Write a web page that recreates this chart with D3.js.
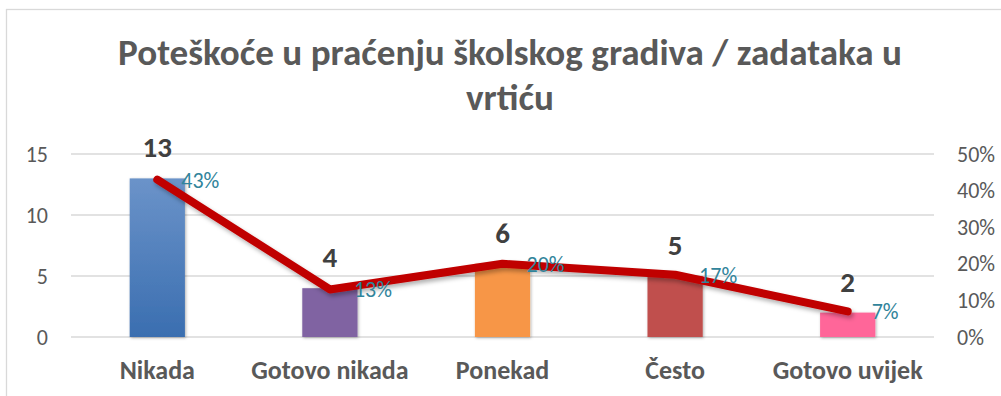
<!DOCTYPE html>
<html>
<head>
<meta charset="utf-8">
<script src="https://cdn.jsdelivr.net/npm/d3@7"></script>
<style>
  html, body { margin: 0; padding: 0; background: #fff; }
  svg { display: block; font-family: Carlito, Lato, "Open Sans", sans-serif; }
</style>
</head>
<body>
<svg id="chart" width="1001" height="396"></svg>
<script>
// Answers per category
const categories = ["Nikada", "Gotovo nikada", "Ponekad", "Često", "Gotovo uvijek"];
const counts = [13, 4, 6, 5, 2];
const shares = [0.43, 0.13, 0.20, 0.17, 0.07];
const barColors = ["#4f81bd", "#8064a2", "#f79646", "#c0504d", "#ff6699"];
const countTicks = [0, 5, 10, 15];
const shareTicks = [0, 0.1, 0.2, 0.3, 0.4, 0.5];
const titleLines = ["Poteškoće u praćenju školskog gradiva / zadataka u", "vrtiću"];

const svg = d3.select("#chart");
const W = 1001, H = 396;
const plot = { left: 71, right: 934, top: 154, bottom: 337 };
const FONT = "Carlito, Lato, sans-serif";

const defs = svg.append("defs");
const grad = defs.append("linearGradient").attr("id", "blueBar")
  .attr("x1", 0).attr("y1", 0).attr("x2", 0).attr("y2", 1);
grad.append("stop").attr("offset", "0%").attr("stop-color", "#6b93c9");
grad.append("stop").attr("offset", "100%").attr("stop-color", "#3a6eb0");

const barShadow = defs.append("filter").attr("id", "barShadow")
  .attr("x", "-20%").attr("y", "-20%").attr("width", "140%").attr("height", "140%");
barShadow.append("feDropShadow").attr("dx", 1).attr("dy", 1).attr("stdDeviation", 1.6)
  .attr("flood-color", "#000").attr("flood-opacity", 0.3);

const lineShadow = defs.append("filter").attr("id", "lineShadow")
  .attr("x", "-10%").attr("y", "-30%").attr("width", "120%").attr("height", "160%");
lineShadow.append("feDropShadow").attr("dx", 2).attr("dy", 3).attr("stdDeviation", 2.2)
  .attr("flood-color", "#000").attr("flood-opacity", 0.3);

// Chart frame
svg.append("rect").attr("x", 6.5).attr("y", 9.5).attr("width", W + 10).attr("height", H + 10)
  .attr("fill", "#fff").attr("stroke", "#d9d9d9").attr("stroke-width", 1.3);

// Scales
const x = d3.scaleBand().domain(categories).range([plot.left, plot.right]).paddingInner(0.68).paddingOuter(0.34);
const yL = d3.scaleLinear().domain([0, 15]).range([plot.bottom, plot.top]);
const yR = d3.scaleLinear().domain([0, 0.5]).range([plot.bottom, plot.top]);
const cx = d => x(d) + x.bandwidth() / 2;

// Gridlines
svg.append("g").selectAll("line").data(countTicks).join("line")
  .attr("x1", plot.left).attr("x2", plot.right)
  .attr("y1", d => yL(d)).attr("y2", d => yL(d))
  .attr("stroke", "#d9d9d9").attr("stroke-width", 1.4);

// Left axis
const leftAxis = svg.append("g").attr("transform", `translate(${plot.left},0)`)
  .call(d3.axisLeft(yL).tickValues(countTicks).tickSize(0).tickPadding(23));
leftAxis.select(".domain").remove();
leftAxis.selectAll("text").attr("font-size", 22).attr("fill", "#595959")
  .attr("font-family", FONT);

// Right axis
const rightAxis = svg.append("g").attr("transform", `translate(${plot.right},0)`)
  .call(d3.axisRight(yR).tickValues(shareTicks).tickSize(0).tickPadding(23).tickFormat(d3.format(".0%")));
rightAxis.select(".domain").remove();
rightAxis.selectAll("text").attr("font-size", 22).attr("fill", "#595959")
  .attr("font-family", FONT);

// Bottom category labels
const bottomAxis = svg.append("g").attr("transform", `translate(0,${plot.bottom})`)
  .call(d3.axisBottom(x).tickSize(0));
bottomAxis.select(".domain").remove();
bottomAxis.selectAll("text").attr("font-size", 26).attr("font-weight", "bold").attr("fill", "#595959")
  .attr("font-family", FONT).attr("y", 379 - plot.bottom).attr("dy", 0);

// Bars
svg.append("g").selectAll("rect").data(categories).join("rect")
  .attr("x", d => x(d)).attr("width", x.bandwidth())
  .attr("y", (d, i) => yL(counts[i]))
  .attr("height", (d, i) => yL(0) - yL(counts[i]))
  .attr("fill", (d, i) => i === 0 ? "url(#blueBar)" : barColors[i])
  .attr("filter", "url(#barShadow)");

// Count labels above bars
svg.append("g").selectAll("text").data(categories).join("text")
  .attr("x", d => cx(d)).attr("y", (d, i) => yL(counts[i]) - 21)
  .attr("text-anchor", "middle").attr("font-size", 29).attr("font-weight", "bold")
  .attr("fill", "#404040").text((d, i) => counts[i]);

// Share line
const line = d3.line().x((d, i) => cx(categories[i])).y(d => yR(d));
svg.append("path").datum(shares).attr("d", line)
  .attr("fill", "none").attr("stroke", "#c00000").attr("stroke-width", 8)
  .attr("stroke-linejoin", "round").attr("stroke-linecap", "round")
  .attr("filter", "url(#lineShadow)");

// Share labels right of points
svg.append("g").selectAll("text").data(shares).join("text")
  .attr("x", (d, i) => cx(categories[i]) + 24).attr("y", d => yR(d) + 8)
  .attr("font-size", 22).attr("fill", "#31849b")
  .text(d => d3.format(".0%")(d));

// Title
const title = svg.append("g").selectAll("text").data(titleLines).join("text")
  .attr("x", 510).attr("y", (d, i) => 65 + i * 45)
  .attr("text-anchor", "middle").attr("font-size", 32).attr("font-weight", "bold")
  .attr("fill", "#595959").text(d => d);
const first = title.nodes()[0];
const scaleF = 784 / first.getComputedTextLength();
title.attr("font-size", 32 * scaleF);
</script>
</body>
</html>
